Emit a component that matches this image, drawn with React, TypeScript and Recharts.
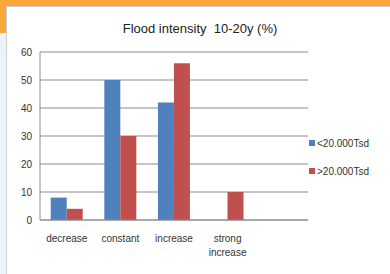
import React from 'react'
import { BarChart, Bar, XAxis, YAxis, CartesianGrid, Text } from 'recharts'

const categories = ['decrease', 'constant', 'increase', 'strong increase', '']
const smallTowns = [8, 50, 42, 0, null]
const bigTowns = [4, 30, 56, 10, null]
const yTicks = [0, 10, 20, 30, 40, 50, 60]
const seriesNames = ['<20.000Tsd', '>20.000Tsd']

const BLUE = '#4f81bd'
const RED = '#c0504d'
const FONT = "'Liberation Sans', Arial, sans-serif"

const data = categories.map((c, i) => ({
  cat: c,
  small: smallTowns[i],
  big: bigTowns[i],
}))

function CatTick(props: any) {
  const { x, y, payload } = props
  return (
    <Text
      x={x}
      y={y + 7}
      width={48}
      textAnchor="middle"
      verticalAnchor="start"
      fontSize={10}
      fontFamily={FONT}
      fill="#333"
      lineHeight={14}
    >
      {payload.value}
    </Text>
  )
}

// legend drawn beside the chart so it does not shrink the plot
function LegendBox() {
  const colors = [BLUE, RED]
  return (
    <div style={{ position: 'absolute', left: 309, top: 136, fontFamily: FONT, fontSize: 10, color: '#333' }}>
      {seriesNames.map((name, i) => (
        <div key={name} style={{ display: 'flex', alignItems: 'center', height: 14, marginBottom: 14 }}>
          <span style={{ width: 6, height: 6, background: colors[i], marginRight: 2 }} />
          {name}
        </div>
      ))}
    </div>
  )
}

export default function App() {
  return (
    <div
      style={{
        position: 'fixed',
        left: 0,
        top: 0,
        width: 390,
        height: 274,
        background: '#eef3f8',
        overflow: 'hidden',
      }}
    >
      <div style={{ position: 'absolute', left: 0, top: 0, width: 390, height: 6, background: '#f9a93a' }} />
      <div style={{ position: 'absolute', left: 0, top: 0, width: 6, height: 33, background: '#f9a93a' }} />
      <div
        style={{
          position: 'absolute',
          left: 6,
          top: 6,
          width: 384,
          height: 268,
          background: '#fff',
          borderLeft: '1px solid #cfcfcf',
          borderTop: '1px solid #cfcfcf',
        }}
      />
      <div
        style={{
          position: 'absolute',
          left: 0,
          top: 21,
          width: 390,
          textAlign: 'center',
          fontFamily: FONT,
          fontSize: 13,
          color: '#222',
          paddingLeft: 10,
          boxSizing: 'border-box',
        }}
      >
        Flood intensity&nbsp;&nbsp;10-20y (%)
      </div>
      <div style={{ position: 'absolute', left: 0, top: 0 }}>
        <BarChart
          width={390}
          height={274}
          data={data}
          margin={{ top: 52, right: 82, bottom: 24, left: 0 }}
          barCategoryGap="20%"
          barGap={0}
        >
          <CartesianGrid vertical={false} stroke="#8c8c8c" strokeWidth={1} />
          <XAxis
            dataKey="cat"
            height={30}
            axisLine={{ stroke: '#8c8c8c' }}
            tickLine={false}
            interval={0}
            tick={<CatTick />}
          />
          <YAxis
            width={40}
            domain={[0, 60]}
            ticks={yTicks}
            axisLine={{ stroke: '#8c8c8c' }}
            tickLine={false}
            tick={{ fontSize: 10, fontFamily: FONT, fill: '#333' }}
          />
          <Bar dataKey="small" name={seriesNames[0]} fill={BLUE} isAnimationActive={false} />
          <Bar dataKey="big" name={seriesNames[1]} fill={RED} isAnimationActive={false} />
        </BarChart>
      </div>
      <LegendBox />
    </div>
  )
}
